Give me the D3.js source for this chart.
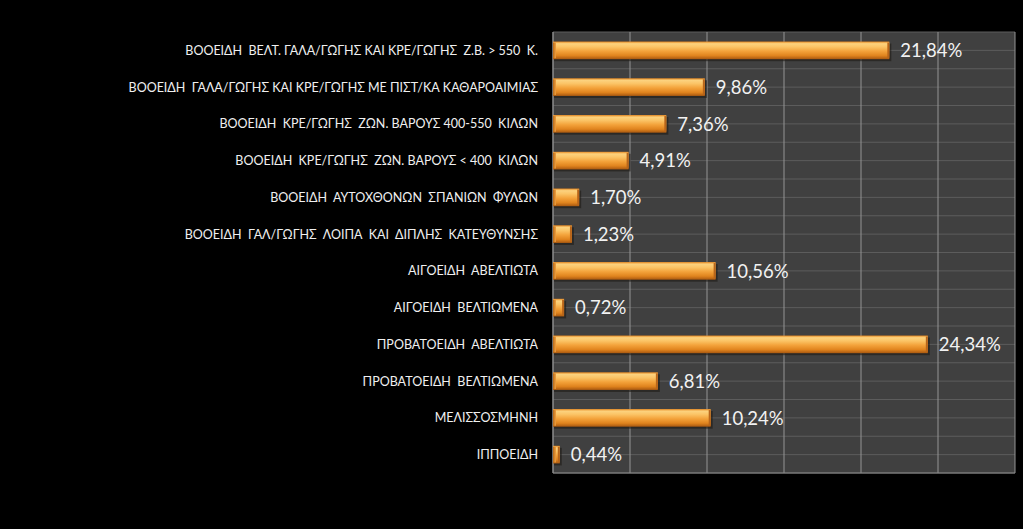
<!DOCTYPE html>
<html><head><meta charset="utf-8">
<script src="https://cdn.jsdelivr.net/npm/d3@7"></script>
<style>
html,body{margin:0;padding:0;background:#000;}
svg{display:block;}
</style></head>
<body>
<svg id="chart" width="1023" height="529"></svg>
<script>
const categories = [
  "ΒΟΟΕΙΔΗ  ΒΕΛΤ. ΓΑΛΑ/ΓΩΓΗΣ ΚΑΙ ΚΡΕ/ΓΩΓΗΣ  Ζ.Β. > 550  Κ.",
  "ΒΟΟΕΙΔΗ  ΓΑΛΑ/ΓΩΓΗΣ ΚΑΙ ΚΡΕ/ΓΩΓΗΣ ΜΕ ΠΙΣΤ/ΚΑ ΚΑΘΑΡΟΑΙΜΙΑΣ",
  "ΒΟΟΕΙΔΗ  ΚΡΕ/ΓΩΓΗΣ  ΖΩΝ. ΒΑΡΟΥΣ 400-550  ΚΙΛΩΝ",
  "ΒΟΟΕΙΔΗ  ΚΡΕ/ΓΩΓΗΣ  ΖΩΝ. ΒΑΡΟΥΣ < 400  ΚΙΛΩΝ",
  "ΒΟΟΕΙΔΗ  ΑΥΤΟΧΘΟΝΩΝ  ΣΠΑΝΙΩΝ  ΦΥΛΩΝ",
  "ΒΟΟΕΙΔΗ  ΓΑΛ/ΓΩΓΗΣ  ΛΟΙΠΑ  ΚΑΙ  ΔΙΠΛΗΣ  ΚΑΤΕΥΘΥΝΣΗΣ",
  "ΑΙΓΟΕΙΔΗ  ΑΒΕΛΤΙΩΤΑ",
  "ΑΙΓΟΕΙΔΗ  ΒΕΛΤΙΩΜΕΝΑ",
  "ΠΡΟΒΑΤΟΕΙΔΗ  ΑΒΕΛΤΙΩΤΑ",
  "ΠΡΟΒΑΤΟΕΙΔΗ  ΒΕΛΤΙΩΜΕΝΑ",
  "ΜΕΛΙΣΣΟΣΜΗΝΗ",
  "ΙΠΠΟΕΙΔΗ"
];
const values = [21.84, 9.86, 7.36, 4.91, 1.70, 1.23, 10.56, 0.72, 24.34, 6.81, 10.24, 0.44];
const xTicks = [0, 5, 10, 15, 20, 25, 30];

const svg = d3.select("#chart");
const pLeft = 553, pRight = 1015, pTop = 32, pBottom = 473;

const x = d3.scaleLinear().domain([0, 30]).range([pLeft, pRight]);
const y = d3.scaleBand().domain(categories).range([pTop, pBottom]).paddingInner(0.52).paddingOuter(0.26);

const defs = svg.append("defs");
const g = defs.append("linearGradient").attr("id","barGrad").attr("x1",0).attr("y1",0).attr("x2",0).attr("y2",1);
[[0,"#e88a22"],[0.12,"#fcd27e"],[0.3,"#fbc466"],[0.55,"#f3a23a"],[0.8,"#e0841e"],[1,"#a85810"]]
  .forEach(([o,c]) => g.append("stop").attr("offset",o).attr("stop-color",c));
const gl = defs.append("linearGradient").attr("id","capGrad").attr("x1",0).attr("y1",0).attr("x2",1).attr("y2",0);
[[0,"#b86a18"],[1,"#f0a040"]].forEach(([o,c]) => gl.append("stop").attr("offset",o).attr("stop-color",c));

svg.append("rect").attr("x",pLeft).attr("y",pTop).attr("width",pRight-pLeft).attr("height",pBottom-pTop).attr("fill","#404040");

const step = (pBottom - pTop) / categories.length;
const hLines = d3.range(0, categories.length * 2 + 1).map(i => pTop + i * step / 2);
svg.append("g").selectAll("line").data(hLines).join("line")
  .attr("x1",pLeft).attr("x2",pRight).attr("y1",d=>d).attr("y2",d=>d)
  .attr("stroke","#5c5c5c").attr("stroke-width",1);

svg.append("g").selectAll("line").data(xTicks).join("line")
  .attr("x1",d=>x(d)).attr("x2",d=>x(d)).attr("y1",pTop).attr("y2",pBottom)
  .attr("stroke","#949494").attr("stroke-width",1);

svg.append("line").attr("x1",pLeft).attr("x2",pLeft).attr("y1",pTop).attr("y2",pBottom).attr("stroke","#888").attr("stroke-width",1);
svg.append("line").attr("x1",pLeft).attr("x2",pRight).attr("y1",pBottom).attr("y2",pBottom).attr("stroke","#888").attr("stroke-width",1);

const bh = y.bandwidth();
svg.append("g").selectAll("rect").data(values).join("rect")
  .attr("x", pLeft+1).attr("y",(d,i)=>y(categories[i])+2)
  .attr("width", d => x(d)-pLeft+1).attr("height", bh)
  .attr("fill","#1e1a16").attr("opacity",0.6);
svg.append("g").selectAll("rect").data(values).join("rect")
  .attr("x", pLeft).attr("y",(d,i)=>y(categories[i]))
  .attr("width", d => x(d)-pLeft).attr("height", bh)
  .attr("fill","url(#barGrad)");
svg.append("g").selectAll("rect").data(values).join("rect")
  .attr("x", d => x(d)-2).attr("y",(d,i)=>y(categories[i])+1)
  .attr("width", 2).attr("height", bh-2)
  .attr("fill","#b8651a");
svg.append("g").selectAll("rect").data(values).join("rect")
  .attr("x", pLeft).attr("y",(d,i)=>y(categories[i])+1)
  .attr("width", 3).attr("height", bh-2)
  .attr("fill","url(#capGrad)");

svg.append("g").selectAll("text").data(values).join("text")
  .attr("x", d => x(d)+11).attr("y",(d,i)=>y(categories[i])+bh/2)
  .attr("dy","0.36em")
  .attr("fill","#f2f2f2").attr("font-family","Lato, 'Open Sans', sans-serif").attr("font-size",18.5)
  .text(d => d.toFixed(2).replace(".", ",") + "%");

svg.append("g").selectAll("text").data(categories).join("text")
  .attr("x", 538).attr("y", d => y(d)+bh/2)
  .attr("dy","0.36em").attr("text-anchor","end")
  .attr("fill","#f0f0f0").attr("font-family","Lato, 'Open Sans', sans-serif").attr("font-size",12.5)
  .style("white-space","pre")
  .text(d => d);
</script>
</body></html>
